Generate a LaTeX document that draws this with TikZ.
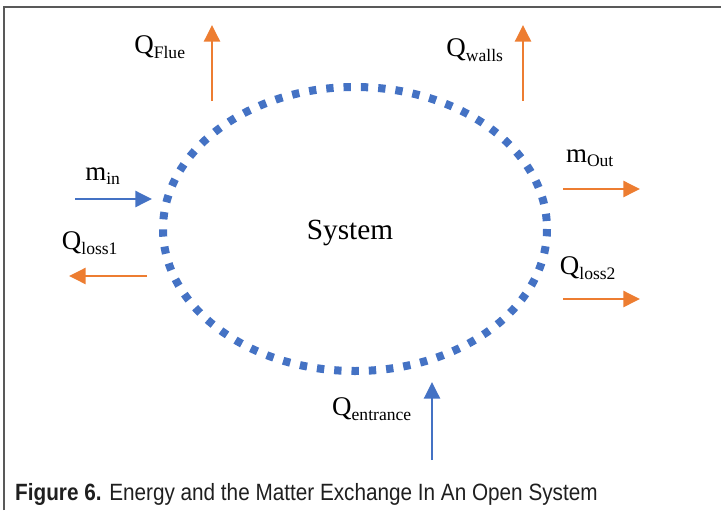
\documentclass[tikz,border=0pt]{standalone}
\usepackage{fontspec}
\setmainfont{Liberation Serif}
\setsansfont{Liberation Sans}[FakeStretch=0.88]
\usetikzlibrary{arrows.meta}

\definecolor{sysblue}{HTML}{4472C4}
\definecolor{heatorange}{HTML}{ED7D31}
\newcommand{\flowlbl}[2]{Q\textsubscript{\fontsize{15}{15}\selectfont #2}}
\newcommand{\masslbl}[1]{m\textsubscript{\fontsize{15}{15}\selectfont #1}}

\begin{document}
\begin{tikzpicture}[x=0.3mm, y=-0.3mm,
  sysline/.style={sysblue, line width=2.4mm, dash pattern=on 2.2mm off 3.0mm},
  inflow/.style={sysblue, line width=0.75mm, -{Triangle[length=5mm,width=4.8mm]}},
  outflow/.style={heatorange, line width=0.75mm, -{Triangle[length=5mm,width=4.8mm]}},
  lbl/.style={inner sep=0pt, font=\fontsize{23}{23}\selectfont}]
\useasboundingbox (0,0) rectangle (721,510);
\draw[black!65, line width=0.6mm] (4,510) -- (4,7) -- (721,7);

\draw[sysline] (355,229) ellipse [x radius=192, y radius=142];
\node[inner sep=0pt, font=\fontsize{25}{25}\selectfont] (system) at (350,233) {System};

\coordinate (flueS) at (212,101);
\coordinate (flueE) at (212,25);
\coordinate (wallsS) at (523,101);
\coordinate (wallsE) at (523,25);
\coordinate (inS) at (75,199);
\coordinate (inE) at (152,199);
\coordinate (lossaS) at (147,276);
\coordinate (lossaE) at (69,276);
\coordinate (outS) at (563,189);
\coordinate (outE) at (640,189);
\coordinate (lossbS) at (563,299);
\coordinate (lossbE) at (640,299);
\coordinate (entS) at (432,460);
\coordinate (entE) at (432,382);

\draw[outflow] (flueS) -- (flueE);
\draw[outflow] (wallsS) -- (wallsE);
\draw[inflow] (inS) -- (inE);
\draw[outflow] (lossaS) -- (lossaE);
\draw[outflow] (outS) -- (outE);
\draw[outflow] (lossbS) -- (lossbE);
\draw[inflow] (entS) -- (entE);

\node[lbl] (flue) at (160,47) {\flowlbl{Q}{Flue}};
\node[lbl] (walls) at (475,50) {\flowlbl{Q}{walls}};
\node[lbl] (min) at (103,176) {\masslbl{in}};
\node[lbl] (lossa) at (90,243) {\flowlbl{Q}{loss1}};
\node[lbl] (mout) at (590,158) {\masslbl{Out}};
\node[lbl] (lossb) at (588,268) {\flowlbl{Q}{loss2}};
\node[lbl] (entrance) at (372,409) {\flowlbl{Q}{entrance}};

\node[anchor=base west, inner sep=0pt, font=\sffamily\fontsize{20.1}{20.1}\selectfont, black!88] (caption) at (15,500)
  {\textbf{Figure 6.} Energy and the Matter Exchange In An Open System};
\end{tikzpicture}
\end{document}
